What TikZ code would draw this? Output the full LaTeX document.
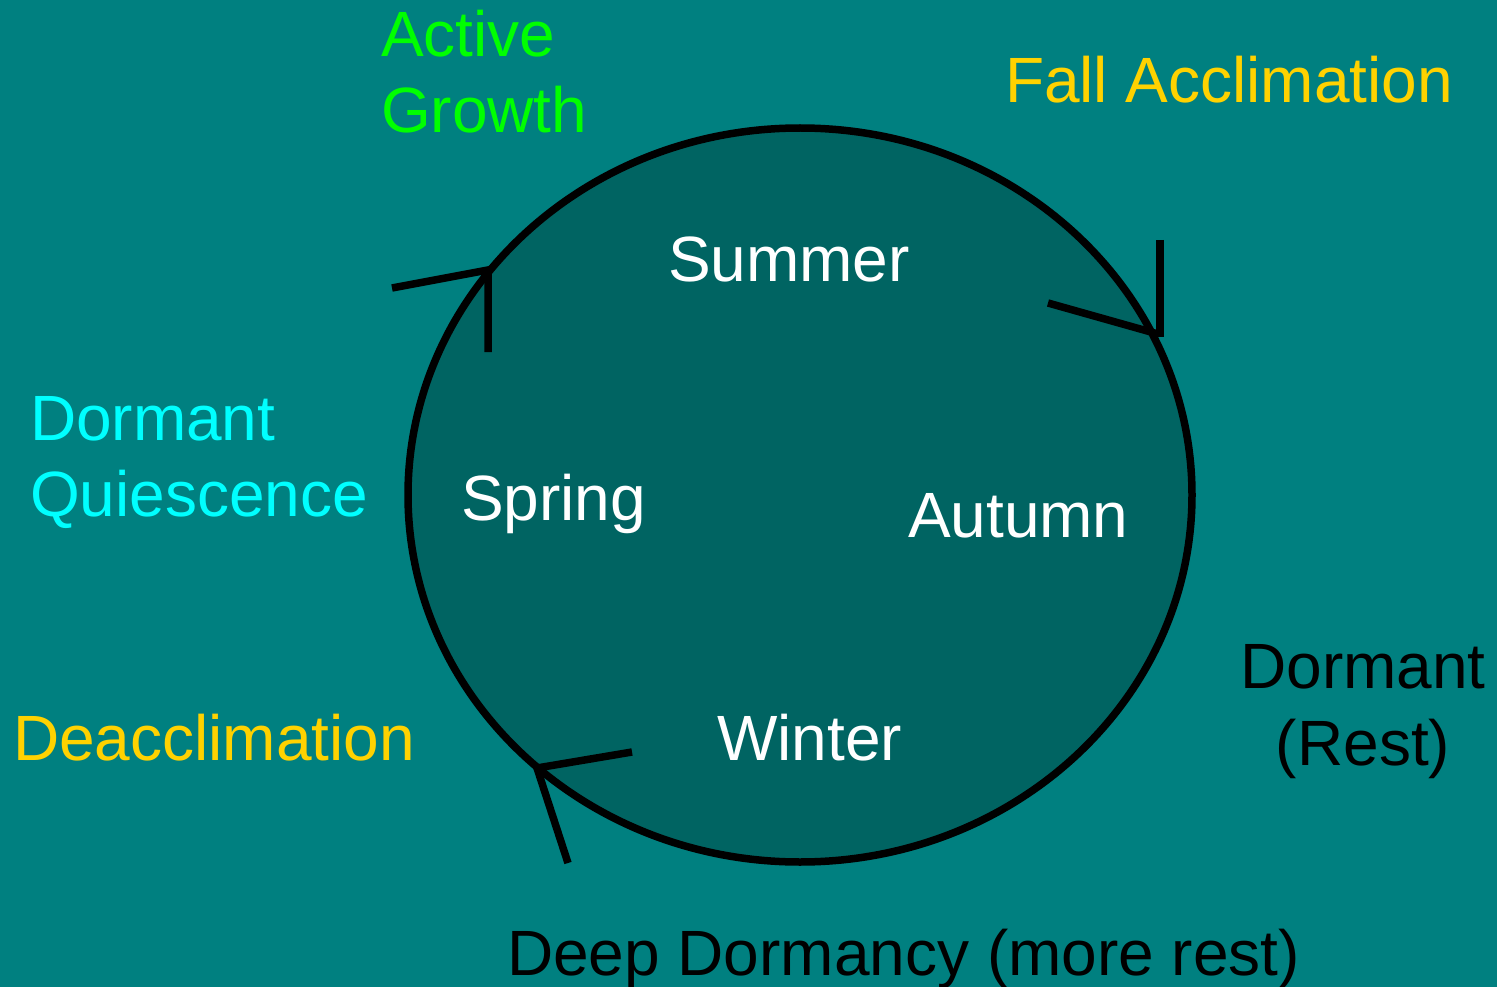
\documentclass[tikz,border=0pt]{standalone}
\usepackage{fontspec}
\setmainfont{Liberation Sans}
\usetikzlibrary{shapes.geometric}
\begin{document}
\definecolor{bgteal}{HTML}{008080}
\definecolor{darkteal}{HTML}{006462}
\definecolor{leafgreen}{HTML}{00FF00}
\definecolor{gold}{HTML}{FFD200}
\definecolor{icecyan}{HTML}{00FFFF}
\begin{tikzpicture}[x=1pt,y=-1pt,
  lbl/.style={inner sep=0pt, outer sep=0pt, font=\fontsize{64}{77}\selectfont},
  lw/.style={lbl, anchor=base west},
  lc/.style={lbl, anchor=base},
  stroke/.style={line width=7.5pt, line cap=butt, line join=miter}]
  % background
  \fill[bgteal] (0,0) rectangle (1497,987);
  \useasboundingbox (0,0) rectangle (1497,987);
  % season circle
  \node[ellipse, draw, line width=7.5pt, fill=darkteal,
        minimum width=784pt, minimum height=734pt, inner sep=0pt]
        (cycle) at (800,495) {};
  % arrow marks on the circle
  \coordinate (springTip) at (488,270);
  \coordinate (springA) at (392,288);
  \coordinate (springB) at (488,352);
  \coordinate (fallTip) at (1158,334);
  \coordinate (fallA) at (1048,303);
  \coordinate (fallB) at (1160,240);
  \coordinate (fallEnd) at (1160,337);
  \coordinate (winterTip) at (537,768);
  \coordinate (winterA) at (632,752);
  \coordinate (winterB) at (568,863);
  \draw[stroke] (springA) -- (springTip) -- (springB);
  \draw[stroke] (fallA) -- (fallTip);
  \draw[stroke] (fallB) -- (fallEnd);
  \draw[stroke] (winterA) -- (winterTip) -- (winterB);
  % seasons
  \node[lw, white] (summer) at (668,281) {Summer};
  \node[lw, white] (spring) at (461,520) {Spring};
  \node[lw, white] (autumn) at (908,537) {Autumn};
  \node[lw, white] (winter) at (717,760) {Winter};
  % states
  \node[lw, leafgreen] (active) at (381,57) {Active};
  \node[lw, leafgreen] (growth) at (381,133) {Growth};
  \node[lw, gold] (fallacc) at (1005,103) {Fall Acclimation};
  \node[lw, icecyan] (dormq) at (30,440) {Dormant};
  \node[lw, icecyan] (quies) at (30,516) {Quiescence};
  \node[lw, gold] (deacc) at (13,760) {Deacclimation};
  \node[lc, black] (dormr) at (1363,688) {Dormant};
  \node[lc, black] (rest) at (1363,765) {(Rest)};
  \node[lw, black] (deep) at (507,975) {Deep Dormancy (more rest)};
\end{tikzpicture}
\end{document}
